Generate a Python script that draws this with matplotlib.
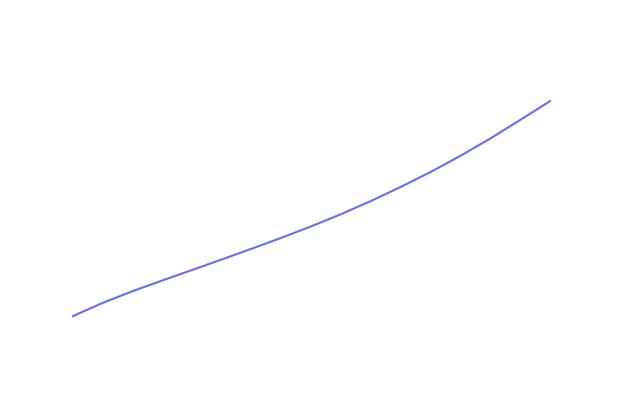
import matplotlib
matplotlib.use("Agg")
import matplotlib.pyplot as plt

# values (no axes shown)
steps = list(range(17))
values = [83.5, 96.8, 108.6, 119.4, 129.9, 140.5, 151.3, 162.3, 173.8,
          186.0, 199.2, 213.4, 228.4, 244.6, 262.0, 280.6, 299.5]

fig = plt.figure(figsize=(6.23, 4.0), dpi=100)
ax = fig.add_axes([72 / 623, 0, 479 / 623, 1])
ax.plot(steps, values, color="#636efa", linewidth=1.5, solid_capstyle="butt")
ax.set_xlim(0, 16)
ax.set_ylim(0, 400)
ax.axis("off")

fig.savefig("out.png", dpi=100, facecolor="white")
